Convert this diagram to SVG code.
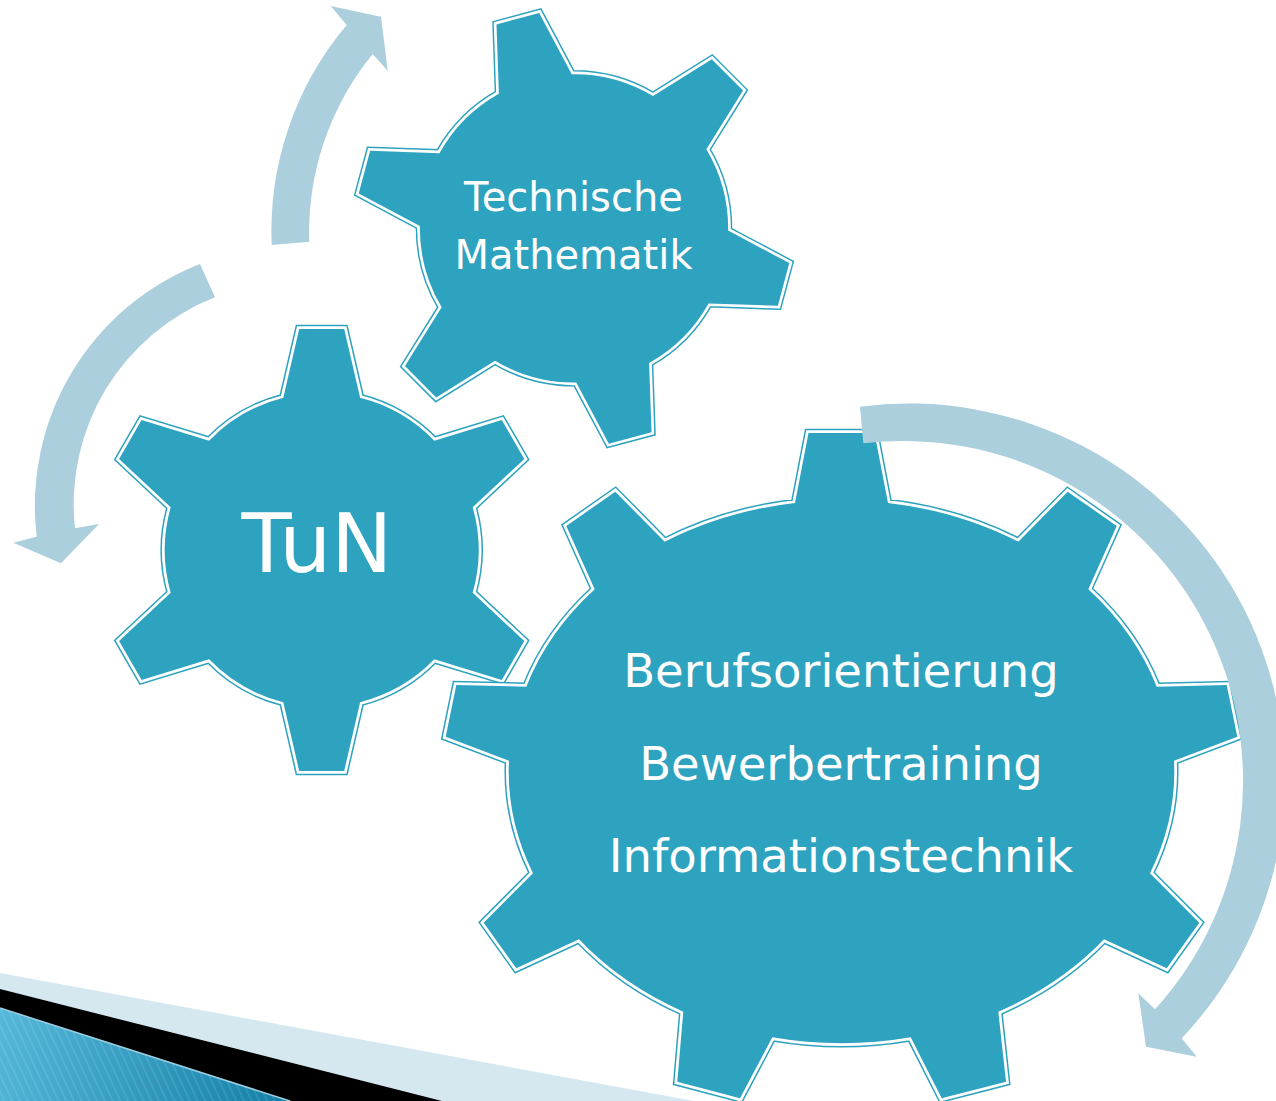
<svg xmlns="http://www.w3.org/2000/svg" width="1276" height="1101" viewBox="0 0 1276 1101">
<defs>
<style>
.g-o{fill:none;stroke:#2CA2BE;stroke-width:8.5;stroke-linejoin:miter}
.g-w{fill:none;stroke:#FFFFFF;stroke-width:5.5;stroke-linejoin:miter}
.g-f{fill:#2DA3BF;stroke:none}
.lbl{fill:#FFFFFF;font-family:'DejaVu Sans','Liberation Sans',sans-serif;text-anchor:middle}
.arrow{fill:#ABCFDD;stroke:none}
</style>
<path id="gear6" d="M -38.4,-152.2 L -22.5,-221 L 22.5,-221 L 38.4,-152.2 A 157 157 0 0 1 112.6,-109.35 L 180.1,-130 L 202.6,-91 L 151,-42.85 A 157 157 0 0 1 151,42.85 L 202.6,91 L 180.1,130 L 112.6,109.35 A 157 157 0 0 1 38.4,152.2 L 22.5,221 L -22.5,221 L -38.4,152.2 A 157 157 0 0 1 -112.6,109.35 L -180.1,130 L -202.6,91 L -151,42.85 A 157 157 0 0 1 -151,-42.85 L -202.6,-91 L -180.1,-130 L -112.6,-109.35 A 157 157 0 0 1 -38.4,-152.2 Z"/>
<path id="gear9" d="M 795,503 L 808.5,433 L 874.5,433 L 888,503 A 333 271 0 0 1 1018.3,541.7 L 1067.7,491.7 L 1116.7,526 L 1088.3,589.3 A 333 271 0 0 1 1156.7,686.7 L 1226.7,685 L 1237.3,736.7 L 1174,760.7 A 333 271 0 0 1 1150,873.3 L 1199.3,922.7 L 1166.7,968.3 L 1104,939.3 A 333 271 0 0 1 998.3,1011.7 L 1006,1081.7 L 941.7,1098.3 L 910.7,1037.3 A 333 271 0 0 1 772.3,1037.3 L 740,1098.3 L 677.3,1081.7 L 683.3,1011.7 A 333 271 0 0 1 579,939.3 L 516.3,968.3 L 483.7,922.7 L 533,873.3 A 333 271 0 0 1 509,760.7 L 445.7,736.7 L 456.3,685 L 526.3,686.7 A 333 271 0 0 1 594.7,589.3 L 566.3,526 L 615.3,491.7 L 664.7,541.7 A 333 271 0 0 1 795,503 Z"/>
<linearGradient id="blueGrad" gradientUnits="userSpaceOnUse" x1="0" y1="1010" x2="290" y2="1101">
<stop offset="0" stop-color="#55B8DA"/>
<stop offset="1" stop-color="#137EA6"/>
</linearGradient>
<pattern id="stripes" patternUnits="userSpaceOnUse" width="7" height="7" patternTransform="rotate(-25)">
<rect x="0" y="0" width="1.5" height="7" fill="#FFFFFF" fill-opacity="0.12"/>
</pattern>
</defs>

<g id="deco">
<polygon points="0,973 694,1101 0,1101" fill="#D5E8F0"/>
<polygon points="0,989 442,1101 0,1101" fill="#000000"/>
<polygon points="0,1008 290,1101 0,1101" fill="url(#blueGrad)"/>
<polygon points="0,1008 290,1101 0,1101" fill="url(#stripes)"/>
<line x1="0" y1="1008" x2="290" y2="1101" stroke="#9CCFE2" stroke-width="1.5"/>
</g>

<g id="gear-tun">
<use href="#gear6" class="g-o" transform="translate(321.7,550)"/>
<use href="#gear6" class="g-w" transform="translate(321.7,550)"/>
<use href="#gear6" class="g-f" transform="translate(321.7,550)"/>
<text class="lbl" x="317" y="572" font-size="82">TuN</text>
</g>

<g id="gear-tm">
<use href="#gear6" class="g-o" transform="translate(574,228.3) rotate(-15) scale(0.982)"/>
<use href="#gear6" class="g-w" transform="translate(574,228.3) rotate(-15) scale(0.982)"/>
<use href="#gear6" class="g-f" transform="translate(574,228.3) rotate(-15) scale(0.982)"/>
<text class="lbl" x="573.5" y="211" font-size="40">Technische</text>
<text class="lbl" x="573.5" y="268.5" font-size="40">Mathematik</text>
</g>

<g id="gear-big">
<use href="#gear9" class="g-o"/>
<use href="#gear9" class="g-w"/>
<use href="#gear9" class="g-f"/>
<text class="lbl" x="841" y="687" font-size="46.5">Berufsorientierung</text>
<text class="lbl" x="841" y="779.5" font-size="46.5">Bewerbertraining</text>
<text class="lbl" x="841" y="872" font-size="46.5">Informationstechnik</text>
</g>

<g id="connectors">
<path class="arrow" d="M 271.7,245 A 320 320 0 0 1 346.7,25 L 330.7,6 L 381,16.7 L 387.7,70.7 L 372.7,54 A 282 282 0 0 0 309.3,241.7 Z"/>
<path class="arrow" d="M 200,264 A 259.5 259.5 0 0 0 36.7,536.7 L 13.3,542.7 L 61,563.3 L 99,524 L 75,528.3 A 222 222 0 0 1 215,297.3 Z"/>
<path class="arrow" d="M 860,406.7 A 376 376 0 0 1 1181.7,1038.3 L 1196.7,1056.7 L 1146,1046.7 L 1138.3,993.3 L 1155,1009.3 A 340 340 0 0 0 863.3,443.3 Z"/>
</g>
</svg>
